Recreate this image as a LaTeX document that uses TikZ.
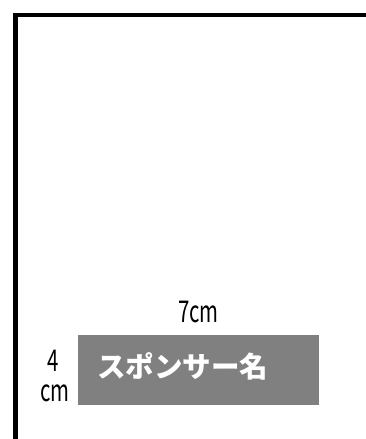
\documentclass[tikz,border=0pt]{standalone}
\usepackage{fontspec}
\newfontfamily\jpfont{Noto Sans CJK JP}
\newfontfamily\narrowfont[FakeStretch=0.68]{Noto Sans CJK JP}
\begin{document}
\begin{tikzpicture}[x=1pt,y=-1pt,
  frameline/.style={line width=4.5pt,black},
  sponsorbox/.style={fill=black!50,draw=none,inner sep=0pt,anchor=north west,minimum width=241pt,minimum height=70pt},
  sizelabel/.style={font=\narrowfont\fontsize{30}{30}\selectfont,inner sep=0pt,text=black},
  sponsortext/.style={font=\jpfont\bfseries\fontsize{28.5}{28.5}\selectfont,text=white,inner sep=0pt,anchor=west}
]
\useasboundingbox (0,0) rectangle (366,439);
\clip (0,0) rectangle (366,439);
\fill[white] (0,0) rectangle (366,439);
\coordinate (fbl) at (15.7,450);
\coordinate (ftl) at (15.7,15);
\coordinate (ftr) at (380,15);
\draw[frameline] (fbl) -- (ftl) -- (ftr);
\node[sponsorbox] (box) at (78,335) {};
\node[sponsortext] (name) at (97,366) {スポンサー名};
\node[sizelabel] (w) at (198.5,312) {7cm};
\node[sizelabel] (h1) at (53.5,361) {4};
\node[sizelabel] (h2) at (55,393) {cm};
\end{tikzpicture}
\end{document}
